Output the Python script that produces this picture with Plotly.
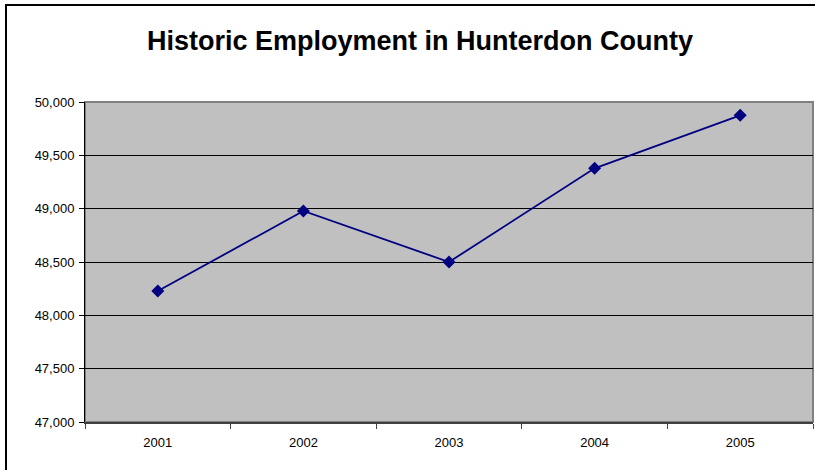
import plotly.graph_objects as go

years = ["2001", "2002", "2003", "2004", "2005"]
employment = [48228, 48978, 48500, 49378, 49875]
y_ticks = [47000, 47500, 48000, 48500, 49000, 49500, 50000]
y_labels = ["47,000", "47,500", "48,000", "48,500", "49,000", "49,500", "50,000"]

fig = go.Figure()
fig.add_trace(go.Scatter(
    x=years, y=employment, mode="lines+markers",
    line=dict(color="#000080", width=1.8),
    marker=dict(symbol="diamond", size=10, color="#000080"),
    showlegend=False,
))

L, R, T, B = 85, 2, 102, 48
W, H = 815, 470
pw = W - L - R
ph = H - T - B

fig.update_layout(
    width=W, height=H,
    margin=dict(l=L, r=R, t=T, b=B),
    paper_bgcolor="white",
    plot_bgcolor="#C0C0C0",
    font=dict(family="Arial, Liberation Sans, sans-serif", color="black", size=13),
    title=dict(text="<b>Historic Employment in Hunterdon County</b>",
               x=420 / W, xanchor="center", y=1 - 41 / H, yanchor="middle",
               font=dict(size=27, family="Arial, Liberation Sans, sans-serif", color="black")),
    xaxis=dict(
        type="category", tickson="boundaries", ticks="outside", ticklen=5,
        tickcolor="#404040", showline=True, linecolor="#404040", linewidth=2,
        showgrid=False, tickfont=dict(size=13), range=[-0.5, 4.5],
        ticklabelstandoff=7,
    ),
    yaxis=dict(
        range=[47000, 50000], tickvals=y_ticks, ticktext=y_labels,
        ticks="outside", ticklen=5, tickcolor="black",
        showline=True, linecolor="black", linewidth=1,
        showgrid=True, gridcolor="black", gridwidth=1, zeroline=False,
        tickfont=dict(size=13), ticklabelstandoff=2,
    ),
    shapes=[
        dict(type="rect", xref="paper", yref="paper", x0=0, x1=1, y0=0, y1=1,
             line=dict(color="#808080", width=2), layer="below"),
        dict(type="rect", xref="paper", yref="paper",
             x0=(6 - L) / pw, x1=(W + 10 - L) / pw,
             y0=-(B + 10) / ph, y1=1 + (T - 5) / ph,
             line=dict(color="black", width=2)),
    ],
)

fig.write_html("out.html")
